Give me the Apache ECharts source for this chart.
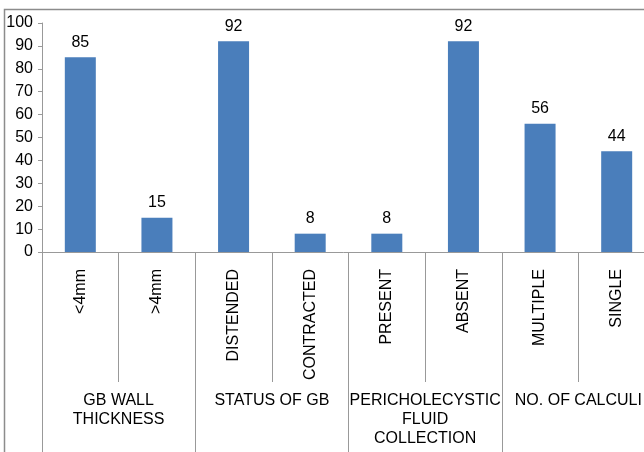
<!DOCTYPE html>
<html>
<head>
<meta charset="utf-8">
<script src="https://cdn.jsdelivr.net/npm/echarts@6/dist/echarts.min.js"></script>
<style>
  html, body { margin: 0; padding: 0; background: #fff; }
  #chart { width: 644px; height: 452px; }
</style>
</head>
<body>
<div id="chart"></div>
<script>
// Ultrasound findings (%), grouped by feature
const categories = ['<4mm', '>4mm', 'DISTENDED', 'CONTRACTED', 'PRESENT', 'ABSENT', 'MULTIPLE', 'SINGLE'];
const values = [85, 15, 92, 8, 8, 92, 56, 44];
const groups = ['GB WALL\nTHICKNESS', 'STATUS OF GB', 'PERICHOLECYSTIC\nFLUID\nCOLLECTION', 'NO. OF CALCULI'];
const yTicks = { min: 0, max: 100, interval: 10 };

const FONT = '"Liberation Sans", Arial, sans-serif';
const FS = 16;
const AXIS_GRAY = '#999999';

const chart = echarts.init(document.getElementById('chart'), null, { renderer: 'canvas' });

chart.setOption({
  animation: false,
  backgroundColor: '#ffffff',
  textStyle: { fontFamily: FONT },
  graphic: [{
    // outer frame around the chart area
    type: 'rect',
    shape: { x: 4.5, y: 9.5, width: 700, height: 500 },
    style: { fill: 'none', stroke: '#8c8c8c', lineWidth: 1.5 },
    silent: true
  }],
  // plot area runs a little past the right edge of the canvas
  grid: { left: 42, top: 23, width: 613, height: 229, containLabel: false, outerBoundsMode: 'none' },
  xAxis: [{
    type: 'category',
    data: categories,
    position: 'bottom',
    axisLine: { show: true, lineStyle: { color: AXIS_GRAY, width: 1 } },
    axisTick: { show: true, alignWithLabel: false, length: 130, lineStyle: { color: AXIS_GRAY, width: 1 } },
    axisLabel: {
      rotate: 90, margin: 17, interval: 0,
      color: '#000', fontSize: FS, fontFamily: FONT
    },
    splitLine: { show: false }
  }, {
    type: 'category',
    data: groups,
    position: 'bottom',
    axisLine: { show: false },
    axisTick: { show: true, alignWithLabel: false, length: 210, lineStyle: { color: AXIS_GRAY, width: 1 } },
    axisLabel: {
      margin: 139, interval: 0, align: 'center', verticalAlign: 'top',
      color: '#000', fontSize: FS, lineHeight: 19, fontFamily: FONT
    },
    splitLine: { show: false }
  }],
  yAxis: {
    type: 'value',
    min: yTicks.min, max: yTicks.max, interval: yTicks.interval,
    axisLine: { show: true, lineStyle: { color: AXIS_GRAY, width: 1 } },
    axisTick: { show: true, length: 4, lineStyle: { color: AXIS_GRAY } },
    axisLabel: { margin: 9, color: '#000', fontSize: FS, fontFamily: FONT },
    splitLine: { show: false }
  },
  series: [{
    type: 'bar',
    xAxisIndex: 0,
    data: values,
    barWidth: 31,
    itemStyle: { color: '#4a7ebb' },
    label: {
      show: true, position: 'top', distance: 7,
      color: '#000', fontSize: FS, fontFamily: FONT
    }
  }]
});
</script>
</body>
</html>
